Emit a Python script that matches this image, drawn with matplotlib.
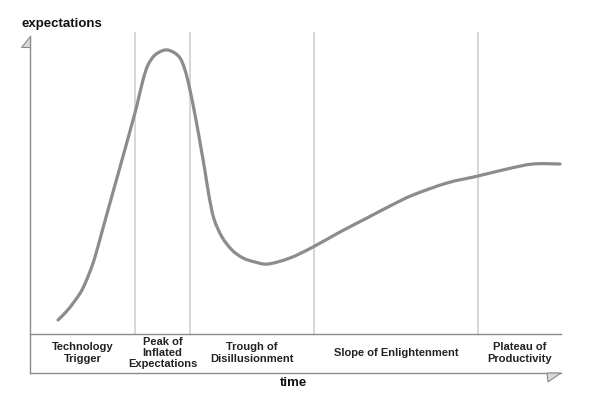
import matplotlib
matplotlib.use("Agg")
import matplotlib.pyplot as plt
from matplotlib.patches import Polygon, PathPatch
from matplotlib.path import Path

plt.rcParams['font.family'] = ['Liberation Sans', 'DejaVu Sans']

# Hype curve (time, expectations)
time = [28, 36, 44, 52, 59, 65, 73, 85, 97, 103, 107, 113, 118, 125, 135, 143, 150,
        155, 160, 166, 171, 175, 179, 184, 192, 202, 213, 225, 238, 260, 283,
        310, 337, 360, 383, 417, 448, 477, 503, 530]
expectations = [14, 22, 32, 44, 60, 77, 106, 149, 192, 214, 229, 254, 269, 279, 284, 282, 276,
                264, 244, 214, 186, 163, 138, 115, 97, 84, 76, 72, 70, 76, 87,
                102, 116, 128, 139, 151, 158, 165, 170, 170]

# Phase boundaries along time axis
phase_edges = [0, 105, 160, 284, 448, 531]
phase_labels = ["Technology\nTrigger", "Peak of\nInflated\nExpectations",
                "Trough of\nDisillusionment", "Slope of Enlightenment",
                "Plateau of\nProductivity"]

W, H = 591, 398
fig = plt.figure(figsize=(W / 100, H / 100), dpi=100)
ax = fig.add_axes([0, 0, 1, 1])
ax.set_xlim(-30, W - 30)
ax.set_ylim(334 - H, 334)
ax.axis('off')

axis_col = '#8a8a8a'
div_col = '#d6d6d6'
y_top = 334 - 33
y_bot = 334 - 373

# dividers
for e in phase_edges[1:-1]:
    ax.plot([e, e], [0, y_top], color=div_col, lw=1.4, zorder=1)

# axes lines
ax.plot([0, 0], [y_bot, 334 - 36], color=axis_col, lw=1.0, zorder=2)
ax.plot([0, phase_edges[-1]], [0, 0], color=axis_col, lw=1.0, zorder=2)
ax.plot([0, phase_edges[-1]], [y_bot, y_bot], color=axis_col, lw=1.0, zorder=2)

# arrow heads
ax.add_patch(Polygon([[0, 334 - 36], [0, 334 - 47], [-9, 334 - 47]], closed=True,
                     facecolor='#d8d8d8', edgecolor=axis_col, lw=0.8, zorder=3))
ax.add_patch(Polygon([[517, y_bot], [531, y_bot], [518, y_bot - 9]], closed=True,
                     facecolor='#d8d8d8', edgecolor=axis_col, lw=0.8, zorder=3))

# curve: smooth Catmull-Rom path through the read points
pts = list(zip(time, expectations))
verts = [pts[0]]
codes = [Path.MOVETO]
n = len(pts)
for i in range(n - 1):
    p0 = pts[i - 1] if i > 0 else pts[i]
    p1 = pts[i]
    p2 = pts[i + 1]
    p3 = pts[i + 2] if i + 2 < n else pts[i + 1]
    c1 = (p1[0] + (p2[0] - p0[0]) / 6, p1[1] + (p2[1] - p0[1]) / 6)
    c2 = (p2[0] - (p3[0] - p1[0]) / 6, p2[1] - (p3[1] - p1[1]) / 6)
    verts += [c1, c2, p2]
    codes += [Path.CURVE4] * 3
ax.add_patch(PathPatch(Path(verts, codes), facecolor='none', edgecolor='#8c8c8c',
                       lw=2.3, capstyle='round', joinstyle='round', zorder=4))

# phase labels
for i, lab in enumerate(phase_labels):
    cx = (phase_edges[i] + phase_edges[i + 1]) / 2
    ax.text(cx, -19, lab, ha='center', va='center', fontsize=8.0, fontweight='bold',
            color='#222222', linespacing=1.13)

ax.text(-8, 334 - 24, "expectations", ha='left', va='center', fontsize=9.5,
        fontweight='bold', color='#111111')
ax.text(264, 334 - 383, "time", ha='center', va='center', fontsize=9.5,
        fontweight='bold', color='#111111')

fig.savefig("out.png", dpi=100, facecolor='white')
